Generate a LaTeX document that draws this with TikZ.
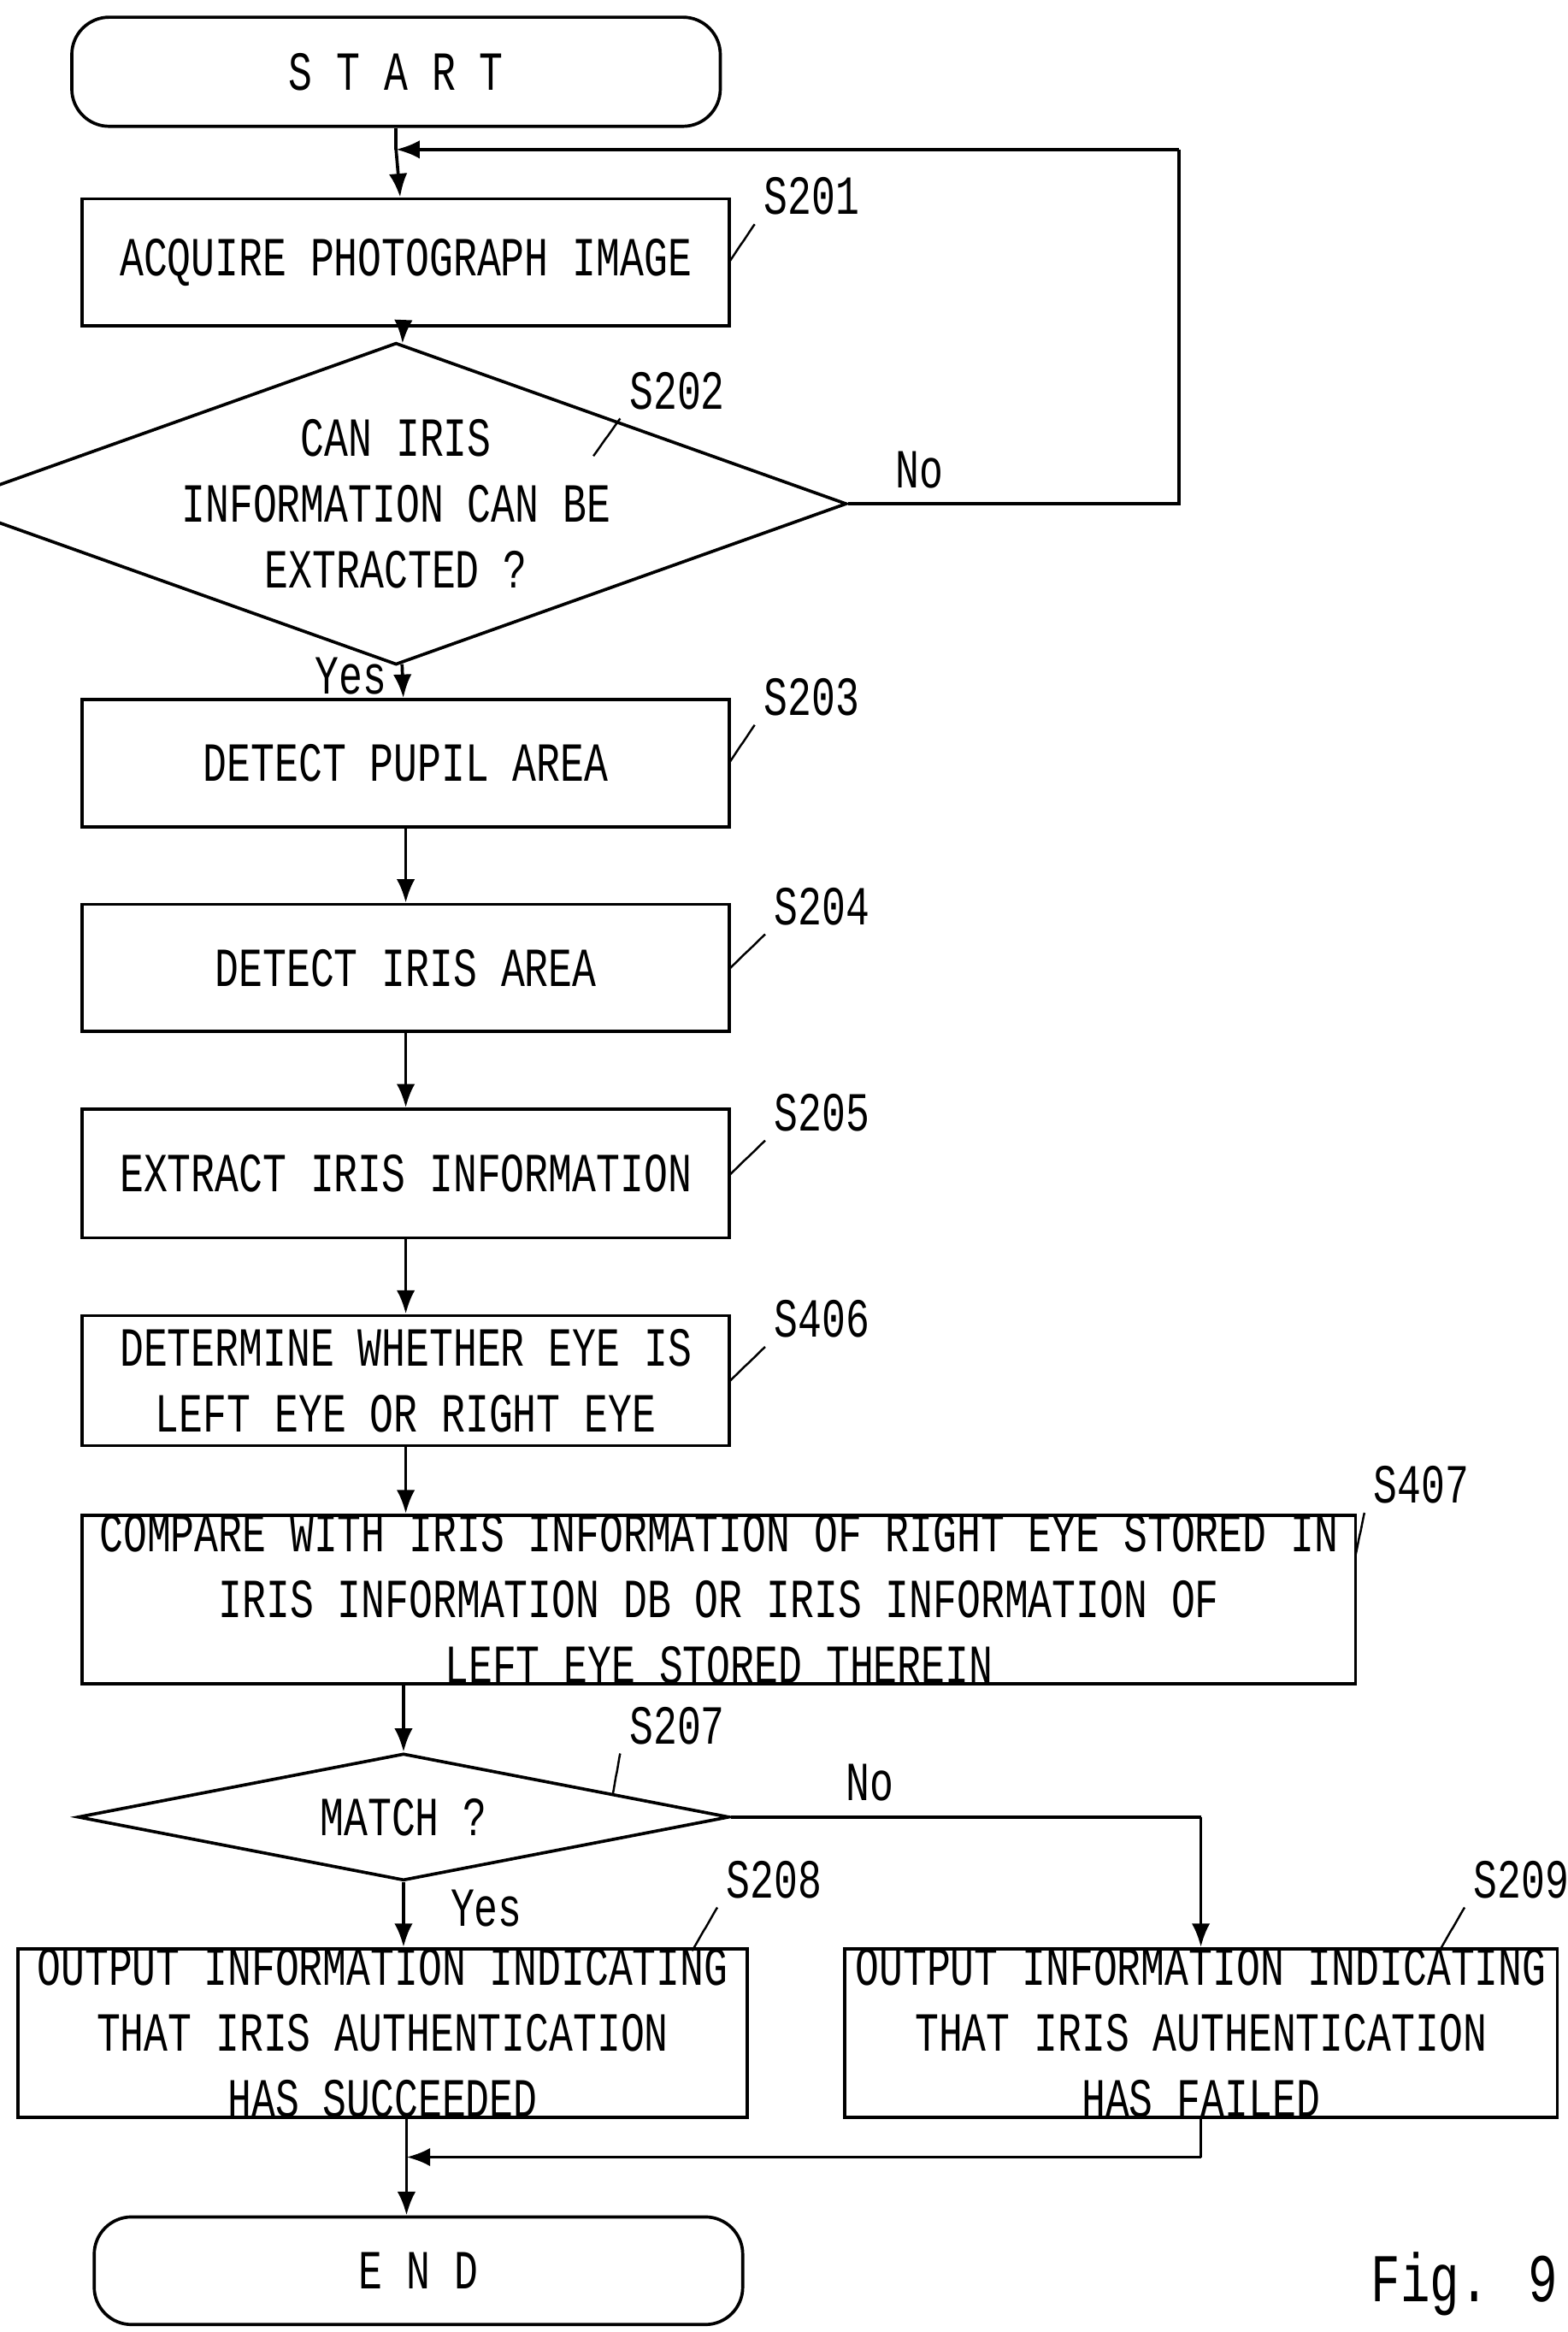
\documentclass[tikz,border=0pt]{standalone}
\usepackage{fontspec}
\newfontfamily\gothic[FakeStretch=0.72]{Liberation Mono}
\usetikzlibrary{shapes.geometric,arrows.meta,calc}
\tikzset{
  every node/.style={font=\gothic\fontsize{21}{25}\selectfont},
  box/.style={draw, line width=1.2pt, align=center, inner sep=0pt},
  term/.style={box, rounded corners=0.5cm},
  dec/.style={draw, diamond, line width=1.2pt, align=center, inner sep=0pt, aspect=2.8},
  steplbl/.style={anchor=south west},
  arrow/.style={line width=1.2pt, -{Latex[length=9pt,width=7pt]}},
  line/.style={line width=1.2pt}
}
\newcommand{\squig}[2]{\draw[line width=0.8pt] (#1) .. controls +(0.3,0.05) and +(-0.2,-0.05) .. ($(#1)!0.5!(#2)$) .. controls +(0.2,0.05) and +(-0.3,-0.05) .. (#2);}
\begin{document}
\begin{tikzpicture}[x=0.02cm,y=-0.02cm]
  \useasboundingbox (0,0) rectangle (1049,1560);

  \node (start) [term, minimum width=8.68cm, minimum height=1.46cm] at (265,48) {S T A R T};
  \node (acq) [box, minimum width=8.66cm, minimum height=1.7cm] at (271.5,175.5) {ACQUIRE PHOTOGRAPH IMAGE};
  \node (can) [dec, minimum width=8.68cm, minimum height=3.1cm] at (265,337) {CAN IRIS\\INFORMATION CAN BE\\EXTRACTED ?};
  \node (pupil) [box, minimum width=8.66cm, minimum height=1.7cm] at (271.5,510.5) {DETECT PUPIL AREA};
  \node (irisa) [box, minimum width=8.66cm, minimum height=1.7cm] at (271.5,647.5) {DETECT IRIS AREA};
  \node (extr) [box, minimum width=8.66cm, minimum height=1.72cm] at (271.5,785) {EXTRACT IRIS INFORMATION};
  \node (lr) [box, minimum width=8.66cm, minimum height=1.74cm] at (271.5,923.5) {DETERMINE WHETHER EYE IS\\LEFT EYE OR RIGHT EYE};
  \node (cmp) [box, minimum width=17.04cm, minimum height=2.2cm] at (481,1070) {COMPARE WITH IRIS INFORMATION OF RIGHT EYE STORED IN\\IRIS INFORMATION DB OR IRIS INFORMATION OF\\LEFT EYE STORED THEREIN};
  \node (match) [dec, minimum width=8.72cm, minimum height=1.7cm, aspect=5] at (270,1215.5) {MATCH ?};
  \node (ok) [box, minimum width=9.76cm, minimum height=2.2cm] at (256,1360) {OUTPUT INFORMATION INDICATING\\THAT IRIS AUTHENTICATION\\HAS SUCCEEDED};
  \node (ng) [box, minimum width=9.54cm, minimum height=2.2cm] at (803.5,1360) {OUTPUT INFORMATION INDICATING\\THAT IRIS AUTHENTICATION\\HAS FAILED};
  \node (end) [term, minimum width=8.68cm, minimum height=1.44cm] at (280,1519) {E N D};
  \node (fig) at (980,1528) {\fontsize{26}{30}\selectfont Fig. 9};

  % main flow
  \coordinate (loop) at (265,100);
  \draw [line] (start) -- (loop);
  \draw [arrow] (loop) -- (acq);
  \draw [arrow] (acq) -- (can);
  \draw [arrow] (can) -- node[left=2pt, pos=0.35] {Yes} (pupil);
  \draw [line] (can.east) -- node[anchor=south west, xshift=14pt, yshift=2pt, pos=0] {No} (789,337) -- (789,100);
  \draw [arrow] (789,100) -- (loop);
  \draw [arrow] (pupil) -- (irisa);
  \draw [arrow] (irisa) -- (extr);
  \draw [arrow] (extr) -- (lr);
  \draw [arrow] (lr) -- (lr |- cmp.north);
  \draw [arrow] (match |- cmp.south) -- (match);
  \draw [arrow] (match.south) -- node[right=14pt, pos=0.4] {Yes} (match.south |- ok.north);
  \draw [line] (match.east) -- node[anchor=south west, xshift=40pt, yshift=2pt, pos=0] {No} (match.east -| ng);
  \draw [arrow] (match.east -| ng) -- (ng);
  \coordinate (join) at (272,1443);
  \draw [line] (ng.south) -- (ng.south |- join);
  \draw [arrow] (ng.south |- join) -- (join);
  \draw [arrow] (ok.south -| join) -- (end.north -| join);

  % step labels
  \node (l201) [steplbl] at (505,150) {S201}; \squig{488,175}{l201.south west}
  \node (l202) [steplbl] at (415,280) {S202}; \squig{397,305}{l202.south west}
  \node (l203) [steplbl] at (505,485) {S203}; \squig{488,510}{l203.south west}
  \node (l204) [steplbl] at (512,625) {S204}; \squig{488,648}{l204.south west}
  \node (l205) [steplbl] at (512,763) {S205}; \squig{488,786}{l205.south west}
  \node (l406) [steplbl] at (512,901) {S406}; \squig{488,924}{l406.south west}
  \node (l407) [steplbl] at (913,1012) {S407}; \squig{907,1040}{l407.south west}
  \node (l207) [steplbl] at (415,1173) {S207}; \squig{410,1200}{l207.south west}
  \node (l208) [steplbl] at (480,1276) {S208}; \squig{463,1305}{l208.south west}
  \node (l209) [steplbl] at (980,1276) {S209}; \squig{963,1305}{l209.south west}
\end{tikzpicture}
\end{document}
